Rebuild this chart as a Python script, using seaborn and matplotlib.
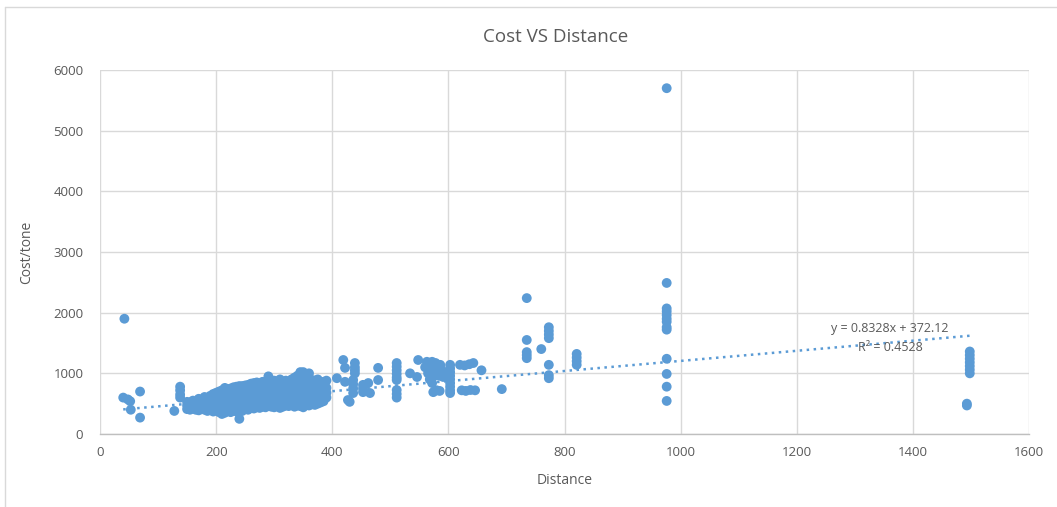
import matplotlib
matplotlib.use("Agg")
import matplotlib.pyplot as plt
from matplotlib.lines import Line2D
import pandas as pd
import seaborn as sns

# ---- data: (distance, cost per tonne) ----
short_haul = [
    (42, 1900), (40, 600), (48, 570), (52, 540), (53, 400), (69, 700), (69, 270),
    (128, 380), (138, 780), (138, 720), (138, 650), (138, 600),
]

core_a = [
    (150, 410), (150, 470), (150, 530),
    (155, 400), (155, 450), (155, 520),
    (160, 420), (160, 480), (160, 550),
    (165, 400), (165, 460), (165, 520),
    (170, 390), (170, 450), (170, 510), (170, 580),
    (175, 410), (175, 480), (175, 560),
    (180, 400), (180, 460), (180, 530), (180, 610),
    (185, 380), (185, 450), (185, 520), (185, 590),
    (190, 400), (190, 470), (190, 540), (190, 630),
    (195, 370), (195, 440), (195, 510), (195, 600), (195, 660),
    (200, 390), (200, 450), (200, 520), (200, 590), (200, 680),
    (205, 360), (205, 430), (205, 500), (205, 570), (205, 650), (205, 700),
    (210, 330), (210, 410), (210, 480), (210, 560), (210, 630), (210, 720),
    (215, 350), (215, 430), (215, 510), (215, 590), (215, 670), (215, 760),
    (220, 380), (220, 450), (220, 530), (220, 610), (220, 690), (220, 740),
    (225, 360), (225, 440), (225, 520), (225, 600), (225, 680), (225, 750),
    (230, 390), (230, 470), (230, 550), (230, 630), (230, 710), (230, 770),
    (235, 370), (235, 450), (235, 530), (235, 610), (235, 700), (235, 780),
    (240, 250), (240, 400), (240, 480), (240, 560), (240, 640), (240, 720), (240, 790),
    (245, 380), (245, 460), (245, 540), (245, 620), (245, 700), (245, 790),
    (250, 420), (250, 500), (250, 580), (250, 660), (250, 740), (250, 800),
]

core_b = [
    (255, 400), (255, 480), (255, 560), (255, 640), (255, 720), (255, 810),
    (260, 430), (260, 510), (260, 590), (260, 670), (260, 750), (260, 830),
    (265, 420), (265, 500), (265, 580), (265, 660), (265, 740), (265, 840),
    (270, 440), (270, 520), (270, 600), (270, 680), (270, 760), (270, 850),
    (275, 430), (275, 510), (275, 590), (275, 670), (275, 750), (275, 820),
    (280, 450), (280, 530), (280, 610), (280, 690), (280, 770), (280, 860),
    (285, 440), (285, 520), (285, 600), (285, 680), (285, 760), (285, 840),
    (290, 460), (290, 540), (290, 620), (290, 700), (290, 780), (290, 860), (290, 950),
    (295, 450), (295, 530), (295, 610), (295, 690), (295, 770), (295, 850),
    (300, 440), (300, 520), (300, 600), (300, 680), (300, 760), (300, 880),
    (305, 460), (305, 540), (305, 620), (305, 700), (305, 780), (305, 860),
    (310, 430), (310, 510), (310, 590), (310, 670), (310, 750), (310, 830), (310, 900),
    (315, 450), (315, 530), (315, 610), (315, 690), (315, 770), (315, 850),
    (320, 470), (320, 550), (320, 630), (320, 710), (320, 790), (320, 880),
    (325, 460), (325, 540), (325, 620), (325, 700), (325, 780), (325, 860),
    (330, 480), (330, 560), (330, 640), (330, 720), (330, 800), (330, 900),
    (335, 450), (335, 530), (335, 610), (335, 690), (335, 770), (335, 850), (335, 930),
    (340, 470), (340, 550), (340, 630), (340, 710), (340, 790), (340, 870), (340, 960),
    (345, 460), (345, 540), (345, 620), (345, 700), (345, 780), (345, 860), (345, 1020),
    (350, 440), (350, 520), (350, 600), (350, 680), (350, 760), (350, 840), (350, 920), (350, 1020),
    (355, 480), (355, 560), (355, 640), (355, 720), (355, 800), (355, 880), (355, 980),
    (360, 470), (360, 550), (360, 630), (360, 710), (360, 790), (360, 870), (360, 1000),
    (365, 490), (365, 570), (365, 650), (365, 730), (365, 810), (365, 890),
    (370, 480), (370, 560), (370, 640), (370, 720), (370, 800), (370, 880),
    (375, 500), (375, 580), (375, 660), (375, 740), (375, 820), (375, 900),
    (380, 520), (380, 600), (380, 680), (380, 760), (380, 840),
    (385, 540), (385, 620), (385, 700), (385, 780), (385, 860),
    (390, 600), (390, 680), (390, 760), (390, 880),
]

mid_haul = [
    (408, 920), (419, 1220), (422, 1090), (422, 860), (427, 560), (430, 530),
    (439, 1170), (439, 1100), (439, 1050), (439, 1000),
    (436, 890), (436, 820), (436, 750), (436, 675),
    (453, 810), (453, 750), (453, 690), (462, 840), (465, 675),
    (479, 1090), (479, 890),
    (511, 1170), (511, 1110), (511, 1050), (511, 990), (511, 930), (511, 890),
    (511, 725), (511, 660), (511, 600),
    (534, 1000), (548, 1220), (546, 940),
    (560, 1100), (563, 1190), (565, 1000), (568, 1150), (568, 1060), (570, 960),
    (572, 1190), (574, 1120), (575, 1040), (576, 960), (578, 1170), (580, 1100),
    (582, 1010), (584, 960), (586, 1140), (588, 1060), (590, 1000), (591, 940),
    (568, 900), (572, 840), (574, 690), (580, 720), (585, 710),
    (603, 1140), (603, 1080), (603, 1020), (603, 960), (603, 900), (603, 840),
    (603, 780), (603, 720), (603, 675),
    (620, 1140), (628, 1130), (636, 1150), (643, 1170),
    (623, 720), (630, 710), (638, 725), (646, 720),
    (657, 1050), (692, 740),
]

long_haul = [
    (735, 2240), (735, 1550), (735, 1350), (735, 1300), (735, 1250), (760, 1400),
    (773, 1760), (773, 1700), (773, 1640), (773, 1580), (773, 1140), (773, 970), (773, 920),
    (821, 1320), (821, 1260), (821, 1200), (821, 1140),
    (976, 5700), (976, 2490), (976, 2070), (976, 2020), (976, 1960), (976, 1900),
    (976, 1850), (976, 1760), (976, 1720), (976, 1240), (976, 990), (976, 780), (976, 545),
    (1493, 500), (1493, 470),
    (1498, 1360), (1498, 1300), (1498, 1240), (1498, 1180), (1498, 1120),
    (1498, 1060), (1498, 1000),
]

# linear trend reported for the series
trend_slope = 0.8328
trend_intercept = 372.12
trend_r2 = 0.4528

x_ticks = [0, 200, 400, 600, 800, 1000, 1200, 1400, 1600]
y_ticks = [0, 1000, 2000, 3000, 4000, 5000, 6000]

# ---- figure ----
sns.set_theme(style="white")
plt.rcParams["font.family"] = ["Open Sans", "DejaVu Sans"]

BLUE = "#5B9BD5"
TEXT = "#595959"
GRID = "#D9D9D9"

points = short_haul + core_a + core_b + mid_haul + long_haul
df = pd.DataFrame(points, columns=["Distance", "Cost/tone"])

fig = plt.figure(figsize=(10.57, 5.07), dpi=100)
ax = fig.add_axes([100 / 1057, 1 - 434 / 507, 929 / 1057, 364 / 507])

sns.scatterplot(data=df, x="Distance", y="Cost/tone", ax=ax, color=BLUE,
                s=50, edgecolor="none", linewidth=0, zorder=3)

# dotted trend line over the span of the data
x0, x1 = df["Distance"].min(), df["Distance"].max()
trend = pd.DataFrame({"Distance": [x0, x1],
                      "Cost/tone": [trend_slope * x0 + trend_intercept,
                                    trend_slope * x1 + trend_intercept]})
sns.lineplot(data=trend, x="Distance", y="Cost/tone", ax=ax, color=BLUE,
             linestyle=(0, (1, 1.8)), linewidth=1.8, zorder=4)

ax.text(1361, 1746, f"y = {trend_slope}x + {trend_intercept}", ha="center", va="center",
        fontsize=9, color=TEXT, zorder=5)
ax.text(1361, 1433, f"R² = {trend_r2}", ha="center", va="center",
        fontsize=9, color=TEXT, zorder=5)

ax.set_xlim(0, 1600)
ax.set_ylim(0, 6000)
ax.set_xticks(x_ticks)
ax.set_yticks(y_ticks)
ax.grid(True, color=GRID, linewidth=1.0, zorder=0)
ax.set_axisbelow(True)
for side in ["top", "right", "left"]:
    ax.spines[side].set_visible(False)
ax.spines["bottom"].set_color("#BFBFBF")
ax.spines["bottom"].set_linewidth(1.0)
ax.tick_params(axis="both", length=0, labelsize=9.5, colors=TEXT)
ax.tick_params(axis="y", pad=12)
ax.tick_params(axis="x", pad=9)

ax.set_xlabel("Distance", fontsize=10, color=TEXT, labelpad=10)
ax.set_ylabel("Cost/tone", fontsize=10, color=TEXT, labelpad=14)

fig.text(556 / 1057, 1 - 37 / 507, "Cost VS Distance", ha="center", va="center",
         fontsize=13.5, color=TEXT)

# chart-area frame edges
fig.add_artist(Line2D([5 / 1057, 1.0], [1 - 7 / 507, 1 - 7 / 507],
                      transform=fig.transFigure, color=GRID, linewidth=1.0))
fig.add_artist(Line2D([5 / 1057, 5 / 1057], [0.0, 1 - 7 / 507],
                      transform=fig.transFigure, color=GRID, linewidth=1.0))

fig.savefig("out.png", dpi=100)
